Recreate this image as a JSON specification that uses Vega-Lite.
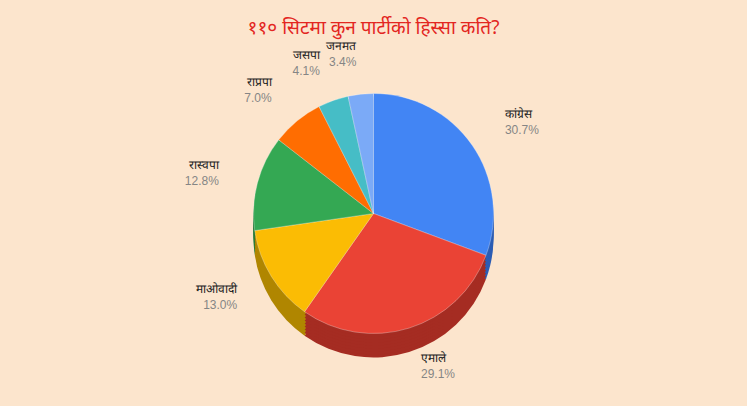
{
  "$schema": "https://vega.github.io/schema/vega-lite/v6.json",
  "width": 747,
  "height": 406,
  "autosize": {"type": "fit", "contains": "padding"},
  "padding": {"top": 30, "bottom": 30, "left": 0, "right": 0},
  "background": "#fce5cd",
  "title": {
    "text": "११० सिटमा कुन पार्टीको हिस्सा कति?",
    "color": "#e3261f",
    "fontSize": 19,
    "fontWeight": "normal",
    "font": "Noto Sans",
    "anchor": "middle",
    "offset": 2
  },
  "config": {"view": {"stroke": null}},
  "data": {
    "values": [
      {"rank": 1, "party": "कांग्रेस", "value": 30.7, "pct": "30.7%"},
      {"rank": 2, "party": "एमाले", "value": 29.1, "pct": "29.1%"},
      {"rank": 3, "party": "माओवादी", "value": 13.0, "pct": "13.0%"},
      {"rank": 4, "party": "रास्वपा", "value": 12.8, "pct": "12.8%"},
      {"rank": 5, "party": "राप्रपा", "value": 7.0, "pct": "7.0%"},
      {"rank": 6, "party": "जसपा", "value": 4.1, "pct": "4.1%"},
      {"rank": 7, "party": "जनमत", "value": 3.4, "pct": "3.4%"}
    ]
  },
  "encoding": {
    "theta": {"field": "value", "type": "quantitative", "stack": true},
    "order": {"field": "rank", "type": "quantitative"}
  },
  "layer": [
    {
      "mark": {"type": "arc", "radius": 120, "yOffset": 24},
      "encoding": {
        "fill": {
          "field": "party", "type": "nominal", "legend": null,
          "scale": {
            "domain": ["कांग्रेस", "एमाले", "माओवादी", "रास्वपा", "राप्रपा", "जसपा", "जनमत"],
            "range": ["#2c5db4", "#a52c22", "#b08600", "#247a3a", "#b34c01", "#30848b", "#5677ad"]
          }
        }
      }
    },
    {
      "mark": {"type": "arc", "radius": 120, "yOffset": 21},
      "encoding": {"fill": {"field": "party", "type": "nominal", "legend": null}}
    },
    {
      "mark": {"type": "arc", "radius": 120, "yOffset": 18},
      "encoding": {"fill": {"field": "party", "type": "nominal", "legend": null}}
    },
    {
      "mark": {"type": "arc", "radius": 120, "yOffset": 15},
      "encoding": {"fill": {"field": "party", "type": "nominal", "legend": null}}
    },
    {
      "mark": {"type": "arc", "radius": 120, "yOffset": 12},
      "encoding": {"fill": {"field": "party", "type": "nominal", "legend": null}}
    },
    {
      "mark": {"type": "arc", "radius": 120, "yOffset": 9},
      "encoding": {"fill": {"field": "party", "type": "nominal", "legend": null}}
    },
    {
      "mark": {"type": "arc", "radius": 120, "yOffset": 6},
      "encoding": {"fill": {"field": "party", "type": "nominal", "legend": null}}
    },
    {
      "mark": {"type": "arc", "radius": 120, "yOffset": 3},
      "encoding": {"fill": {"field": "party", "type": "nominal", "legend": null}}
    },
    {
      "mark": {"type": "arc", "radius": 120, "stroke": "#ffffff", "strokeWidth": 0.6, "strokeOpacity": 0.5},
      "encoding": {
        "color": {
          "field": "party", "type": "nominal", "legend": null,
          "scale": {
            "domain": ["कांग्रेस", "एमाले", "माओवादी", "रास्वपा", "राप्रपा", "जसपा", "जनमत"],
            "range": ["#4285f4", "#ea4335", "#fbbc04", "#34a853", "#ff6d01", "#46bdc6", "#7baaf7"]
          }
        }
      }
    },
    {
      "mark": {"type": "text", "radius": 160, "align": "left", "dy": -8, "fontSize": 12, "color": "#222222", "font": "Liberation Sans"},
      "encoding": {
        "detail": {"field": "party"},
        "text": {"condition": {"test": "datum.rank <= 2", "field": "party"}, "value": ""}
      }
    },
    {
      "mark": {"type": "text", "radius": 160, "align": "left", "dy": 8, "fontSize": 12, "color": "#858585", "font": "Liberation Sans"},
      "encoding": {
        "detail": {"field": "party"},
        "text": {"condition": {"test": "datum.rank <= 2", "field": "pct"}, "value": ""}
      }
    },
    {
      "mark": {"type": "text", "radius": 160, "align": "right", "dy": -8, "fontSize": 12, "color": "#222222", "font": "Liberation Sans"},
      "encoding": {
        "detail": {"field": "party"},
        "text": {"condition": {"test": "datum.rank > 2", "field": "party"}, "value": ""}
      }
    },
    {
      "mark": {"type": "text", "radius": 160, "align": "right", "dy": 8, "fontSize": 12, "color": "#858585", "font": "Liberation Sans"},
      "encoding": {
        "detail": {"field": "party"},
        "text": {"condition": {"test": "datum.rank > 2", "field": "pct"}, "value": ""}
      }
    }
  ]
}
